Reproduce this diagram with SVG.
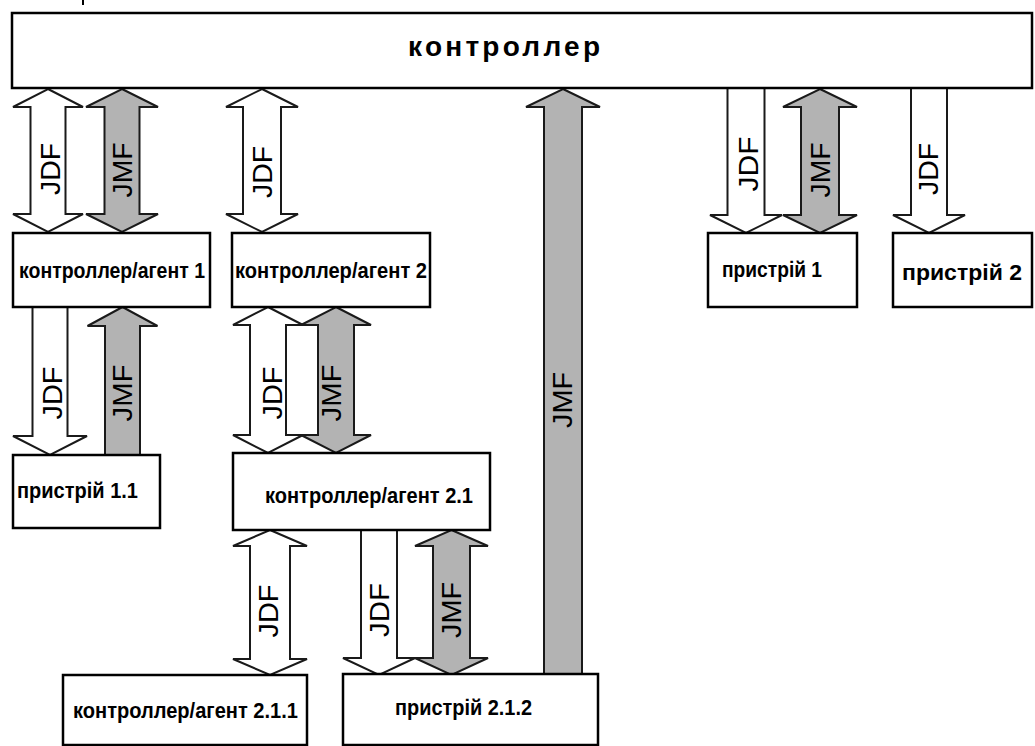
<svg xmlns="http://www.w3.org/2000/svg" width="1035" height="746" viewBox="0 0 1035 746">
<style>
.box{fill:#fff;stroke:#000;stroke-width:2.5}
.aw{fill:#fff;stroke:#1a1a1a;stroke-width:2;stroke-linejoin:miter}
.ag{fill:#b3b3b3;stroke:#1a1a1a;stroke-width:2;stroke-linejoin:miter}
.lbl{font-family:"Liberation Sans",Arial,sans-serif;font-weight:bold;font-size:22px;fill:#000}
.hdr{font-family:"Liberation Sans",Arial,sans-serif;font-weight:bold;font-size:28px;fill:#000}
.al{font-family:"Liberation Sans",Arial,sans-serif;font-size:27px;fill:#000;text-anchor:middle}
</style>
<rect width="1035" height="746" fill="#fff"/>
<rect x="82" y="0" width="2" height="5" fill="#000"/>
<g id="connectors">
<path class="aw" d="M48,89 L83,107 L65.5,107 L65.5,214 L83,214 L48,232 L13,214 L30.5,214 L30.5,107 L13,107 Z"/>
<path class="ag" d="M122,89 L158,107 L139.5,107 L139.5,214 L158,214 L122,232 L86,214 L104.5,214 L104.5,107 L86,107 Z"/>
<path class="aw" d="M262,89 L298,107 L281,107 L281,214 L298,214 L262,232 L226,214 L243,214 L243,107 L226,107 Z"/>
<path class="ag" d="M563,89 L600,107 L582,107 L582,674 L544,674 L544,107 L526,107 Z"/>
<path class="aw" d="M727.5,88 L764.5,88 L764.5,215 L782,215 L746,233 L710,215 L727.5,215 Z"/>
<path class="ag" d="M820,89 L857,107 L839,107 L839,215 L857,215 L820,233 L783,215 L801,215 L801,107 L783,107 Z"/>
<path class="aw" d="M911,88 L947,88 L947,215 L965,215 L929,233 L893,215 L911,215 Z"/>
<path class="aw" d="M32.5,307 L67.5,307 L67.5,436 L87,436 L50,455 L13,436 L32.5,436 Z"/>
<path class="ag" d="M122.5,307 L157.5,326 L140,326 L140,455 L105,455 L105,326 L87.5,326 Z"/>
<path class="aw" d="M268,307 L303,325 L286,325 L286,435 L303,435 L268,453 L233,435 L250,435 L250,325 L233,325 Z"/>
<path class="ag" d="M336,307 L371,325 L354,325 L354,435 L371,435 L336,453 L301,435 L318,435 L318,325 L301,325 Z"/>
<path class="aw" d="M270,530 L307,546 L290,546 L290,659 L307,659 L270,675 L233,659 L250,659 L250,546 L233,546 Z"/>
<path class="aw" d="M361,530 L397,530 L397,658 L415,658 L379,675 L343,658 L361,658 Z"/>
<path class="ag" d="M451.5,530 L488,546 L470,546 L470,658 L488,658 L451.5,675 L415,658 L433,658 L433,546 L415,546 Z"/>
<g class="al">
<text transform="translate(50,169) rotate(-90)" y="9.7" textLength="52" lengthAdjust="spacingAndGlyphs">JDF</text>
<text transform="translate(122,170) rotate(-90)" y="9.7" textLength="55" lengthAdjust="spacingAndGlyphs">JMF</text>
<text transform="translate(262,172) rotate(-90)" y="9.7" textLength="52" lengthAdjust="spacingAndGlyphs">JDF</text>
<text transform="translate(562,400) rotate(-90)" y="10" textLength="56" lengthAdjust="spacingAndGlyphs">JMF</text>
<text transform="translate(749,164) rotate(-90)" y="9" textLength="55" lengthAdjust="spacingAndGlyphs">JDF</text>
<text transform="translate(821,170) rotate(-90)" y="9" textLength="55" lengthAdjust="spacingAndGlyphs">JMF</text>
<text transform="translate(929,169) rotate(-90)" y="9" textLength="52" lengthAdjust="spacingAndGlyphs">JDF</text>
<text transform="translate(52,393) rotate(-90)" y="9.7" textLength="53" lengthAdjust="spacingAndGlyphs">JDF</text>
<text transform="translate(122,393) rotate(-90)" y="9.7" textLength="57" lengthAdjust="spacingAndGlyphs">JMF</text>
<text transform="translate(272,393) rotate(-90)" y="9.7" textLength="53" lengthAdjust="spacingAndGlyphs">JDF</text>
<text transform="translate(331,393) rotate(-90)" y="10" textLength="57" lengthAdjust="spacingAndGlyphs">JMF</text>
<text transform="translate(268,611) rotate(-90)" y="10" textLength="53" lengthAdjust="spacingAndGlyphs">JDF</text>
<text transform="translate(379,610) rotate(-90)" y="10" textLength="54" lengthAdjust="spacingAndGlyphs">JDF</text>
<text transform="translate(451,610) rotate(-90)" y="10" textLength="56" lengthAdjust="spacingAndGlyphs">JMF</text>
</g>
</g>
<g id="controller">
<rect class="box" x="12" y="13" width="1020" height="75"/>
<text class="hdr" x="408" y="56" textLength="192" lengthAdjust="spacing">контроллер</text>
</g>
<g id="agent1">
<rect class="box" x="13" y="233" width="197" height="74"/>
<text class="lbl" x="19" y="278" textLength="186" lengthAdjust="spacingAndGlyphs">контроллер/агент 1</text>
</g>
<g id="agent2">
<rect class="box" x="232" y="233" width="198" height="74"/>
<text class="lbl" x="235" y="278" textLength="192" lengthAdjust="spacingAndGlyphs">контроллер/агент 2</text>
</g>
<g id="device1">
<rect class="box" x="708" y="233" width="149" height="74"/>
<text class="lbl" x="722" y="277" font-size="20" textLength="100" lengthAdjust="spacingAndGlyphs">пристрій 1</text>
</g>
<g id="device2">
<rect class="box" x="893" y="233" width="139" height="74"/>
<text class="lbl" x="902" y="280" font-size="21" textLength="120" lengthAdjust="spacingAndGlyphs">пристрій 2</text>
</g>
<g id="device1_1">
<rect class="box" x="13" y="455" width="147" height="73"/>
<text class="lbl" x="17" y="498" font-size="20" textLength="121" lengthAdjust="spacingAndGlyphs">пристрій 1.1</text>
</g>
<g id="agent2_1">
<rect class="box" x="233" y="453" width="257" height="77"/>
<text class="lbl" x="265" y="503" textLength="208" lengthAdjust="spacingAndGlyphs">контроллер/агент 2.1</text>
</g>
<g id="agent2_1_1">
<rect class="box" x="63" y="675" width="244" height="70"/>
<text class="lbl" x="73" y="718" textLength="225" lengthAdjust="spacingAndGlyphs">контроллер/агент 2.1.1</text>
</g>
<g id="device2_1_2">
<rect class="box" x="343" y="674" width="255" height="71"/>
<text class="lbl" x="395" y="715" font-size="20" textLength="137" lengthAdjust="spacingAndGlyphs">пристрій 2.1.2</text>
</g>
</svg>
